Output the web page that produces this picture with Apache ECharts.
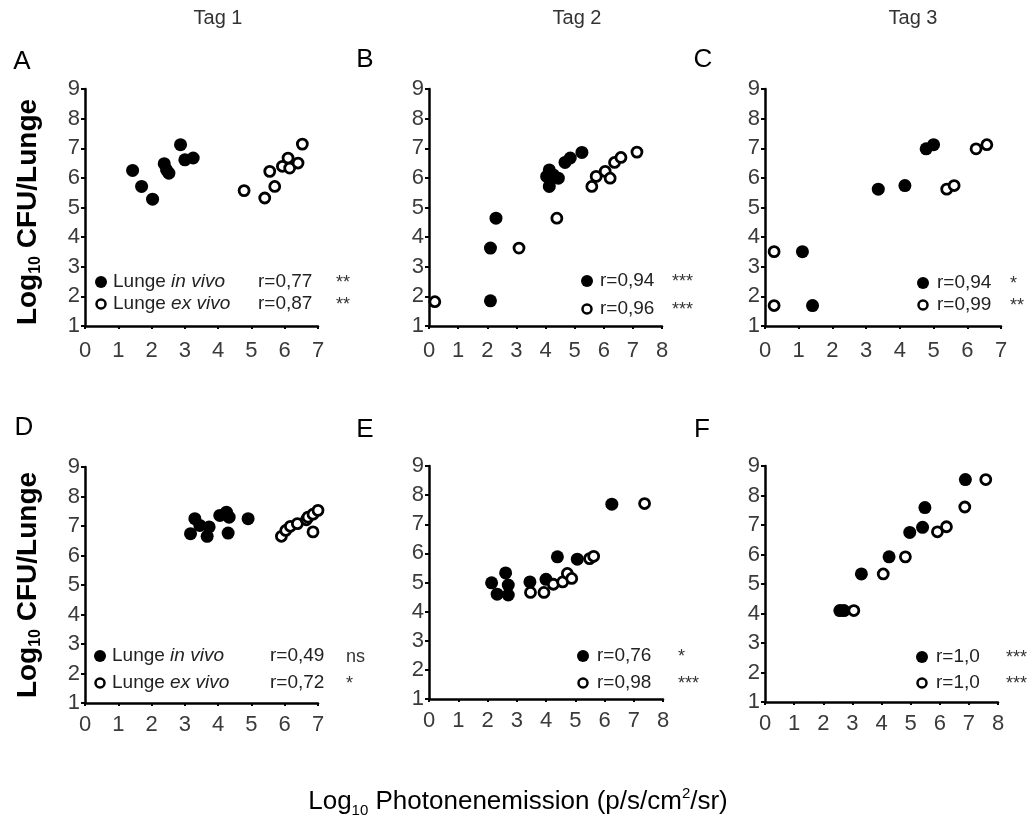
<!DOCTYPE html>
<html><head><meta charset="utf-8">
<script src="https://cdn.jsdelivr.net/npm/echarts@6/dist/echarts.min.js"></script>
<style>html,body{margin:0;padding:0;background:#fff}#c{width:1036px;height:825px}</style>
</head><body><div id="c"></div>
<script>
// ---------- data ----------
var panelLetters = ['A','B','C','D','E','F'];
var dayTitles = ['Tag 1','Tag 2','Tag 3'];
var xMax = [7, 8, 7, 7, 8, 8];
var yTicks = [1, 9];
var rInVivo = ['0,77','0,94','0,94','0,49','0,76','1,0'];
var rExVivo = ['0,87','0,96','0,99','0,72','0,98','1,0'];
var sigInVivo = ['**','***','*','ns','*','***'];
var sigExVivo = ['**','***','**','*','***','***'];
var legendInVivo = 'Lunge in vivo';
var legendExVivo = 'Lunge ex vivo';

var A_inVivo = [[1.43,6.25],[1.7,5.71],[2.03,5.28],[2.38,6.48],[2.45,6.27],[2.52,6.16],[2.87,7.12],[3.0,6.61],[3.25,6.67]];
var A_exVivo = [[4.78,5.57],[5.4,5.32],[5.55,6.22],[5.7,5.71],[5.93,6.39],[6.1,6.67],[6.15,6.33],[6.4,6.5],[6.53,7.14]];
var B_inVivo = [[2.11,1.85],[2.11,3.63],[2.3,4.64],[4.04,6.05],[4.13,6.27],[4.13,5.71],[4.27,6.1],[4.44,5.99],[4.67,6.52],[4.85,6.67],[5.25,6.86]];
var B_exVivo = [[0.2,1.82],[3.09,3.63],[4.39,4.64],[5.59,5.71],[5.74,6.05],[6.05,6.22],[6.22,5.99],[6.37,6.52],[6.59,6.69],[7.14,6.87]];
var C_inVivo = [[1.11,3.51],[1.41,1.69],[3.36,5.62],[4.15,5.74],[4.78,6.98],[5.0,7.12]];
var C_exVivo = [[0.27,3.51],[0.27,1.69],[5.39,5.62],[5.61,5.74],[6.26,6.98],[6.58,7.12]];
var D_inVivo = [[3.17,6.74],[3.3,7.25],[3.45,7.02],[3.67,6.65],[3.73,6.97],[4.05,7.36],[4.25,7.47],[4.33,7.3],[4.3,6.76],[4.9,7.25]];
var D_exVivo = [[5.9,6.65],[6.03,6.85],[6.17,6.99],[6.38,7.08],[6.65,7.21],[6.7,7.3],[6.85,7.4],[7.0,7.53],[7.03,7.3],[6.85,6.8]];
var E_inVivo = [[2.14,4.99],[2.33,4.6],[2.62,5.33],[2.71,4.91],[2.71,4.57],[3.45,5.02],[4.0,5.11],[4.39,5.88],[5.07,5.8],[6.25,7.69]];
var E_exVivo = [[3.47,4.66],[3.93,4.66],[4.25,4.94],[4.57,5.02],[4.73,5.31],[4.88,5.14],[5.49,5.82],[5.63,5.9],[7.37,7.71]];
var F_inVivo = [[2.57,4.1],[2.71,4.1],[3.31,5.34],[4.26,5.92],[4.97,6.75],[5.41,6.92],[5.49,7.59],[6.88,8.54]];
var F_exVivo = [[3.05,4.1],[4.06,5.34],[4.82,5.92],[5.92,6.77],[6.23,6.94],[6.86,7.61],[7.58,8.54]];

var inVivoSets = [A_inVivo, B_inVivo, C_inVivo, D_inVivo, E_inVivo, F_inVivo];
var exVivoSets = [A_exVivo, B_exVivo, C_exVivo, D_exVivo, E_exVivo, F_exVivo];

// ---------- layout ----------
var FONT = '"Liberation Sans", Arial, sans-serif';
var grids = [
  {left:85, top:89, width:233, height:237},
  {left:429, top:89, width:233, height:237},
  {left:765, top:89, width:236, height:237},
  {left:85, top:467, width:233, height:236},
  {left:429, top:466, width:234, height:233},
  {left:765, top:466, width:233, height:236}
];
var letterPos = [[22,62],[365,60],[703,60],[24,428],[365,430],[702,430]];
var dayPos = [[218,18],[577,18],[913,18]];
// legend rows: marker x, row1 y, row2 y, r-text x, sig x, show label text
var legPos = [
  {mx:101, y1:282, y2:304, rx:258, sx:336, label:true},
  {mx:587, y1:281, y2:309, rx:600, sx:672, label:false},
  {mx:923, y1:283, y2:305, rx:937, sx:1010, label:false},
  {mx:100, y1:656, y2:683, rx:270, sx:346, label:true},
  {mx:583, y1:656, y2:683, rx:597, sx:678, label:false},
  {mx:922, y1:657, y2:683, rx:936, sx:1006, label:false}
];

var xAxes = [], yAxes = [], series = [], graphic = [];
grids.forEach(function(g, i){
  var top = i < 3;
  xAxes.push({gridIndex:i, type:'value', min:0, max:xMax[i], interval:1,
    axisLine:{show:true, onZero:false, lineStyle:{color:'#000', width:2.5}},
    axisTick:{show:true, length:3, lineStyle:{color:'#000', width:2}},
    axisLabel:{color:'#3a3a3a', fontSize:22, fontFamily:FONT, margin: top?14:11},
    splitLine:{show:false}});
  yAxes.push({gridIndex:i, type:'value', min:yTicks[0], max:yTicks[1], interval:1,
    axisLine:{show:true, onZero:false, lineStyle:{color:'#000', width:2.5}},
    axisTick:{show:true, length:4, lineStyle:{color:'#000', width:2}},
    axisLabel:{color:'#3a3a3a', fontSize:22, fontFamily:FONT, margin:5},
    splitLine:{show:false}});
  series.push({type:'scatter', xAxisIndex:i, yAxisIndex:i, data:inVivoSets[i],
    symbol:'circle', symbolSize:13, itemStyle:{color:'#000', opacity:1}});
  series.push({type:'scatter', xAxisIndex:i, yAxisIndex:i, data:exVivoSets[i],
    symbol:'circle', symbolSize:10, itemStyle:{color:'#fff', borderColor:'#000', borderWidth:2.8, opacity:1}});

  graphic.push({type:'text', x:letterPos[i][0], y:letterPos[i][1],
    style:{text:panelLetters[i], fontSize:26, fontFamily:FONT, fill:'#000', align:'center', verticalAlign:'middle'}});

  var L = legPos[i];
  graphic.push({type:'circle', shape:{cx:L.mx, cy:L.y1, r:6}, style:{fill:'#000'}});
  graphic.push({type:'circle', shape:{cx:L.mx, cy:L.y2, r:4.5}, style:{fill:'#fff', stroke:'#000', lineWidth:2.5}});
  var rich = {n:{fontSize:19, fontFamily:FONT, fill:'#222'}, i:{fontSize:19, fontFamily:FONT, fontStyle:'italic', fill:'#222'}};
  if (L.label) {
    var p1 = legendInVivo.split(' '), p2 = legendExVivo.split(' ');
    graphic.push({type:'text', x:L.mx+12, y:L.y1, style:{text:'{n|'+p1[0]+' }{i|'+p1.slice(1).join(' ')+'}',
      rich:rich, verticalAlign:'middle', align:'left'}});
    graphic.push({type:'text', x:L.mx+12, y:L.y2, style:{text:'{n|'+p2[0]+' }{i|'+p2.slice(1).join(' ')+'}',
      rich:rich, verticalAlign:'middle', align:'left'}});
  }
  graphic.push({type:'text', x:L.rx, y:L.y1, style:{text:'r='+rInVivo[i], fontSize:19, fontFamily:FONT, fill:'#222', verticalAlign:'middle', align:'left'}});
  graphic.push({type:'text', x:L.rx, y:L.y2, style:{text:'r='+rExVivo[i], fontSize:19, fontFamily:FONT, fill:'#222', verticalAlign:'middle', align:'left'}});
  graphic.push({type:'text', x:L.sx, y:L.y1+1, style:{text:sigInVivo[i], fontSize:18, fontFamily:FONT, fill:'#333', verticalAlign:'middle', align:'left'}});
  graphic.push({type:'text', x:L.sx, y:L.y2+1, style:{text:sigExVivo[i], fontSize:18, fontFamily:FONT, fill:'#333', verticalAlign:'middle', align:'left'}});
});

dayTitles.forEach(function(t, k){
  graphic.push({type:'text', x:dayPos[k][0], y:dayPos[k][1],
    style:{text:t, fontSize:20, fontFamily:'"Liberation Sans Narrow", "Liberation Sans", Arial, sans-serif', fill:'#333', align:'center', verticalAlign:'middle'}});
});

[[28,212],[28,585]].forEach(function(p){
  graphic.push({type:'text', x:p[0], y:p[1], rotation:Math.PI/2,
    style:{text:'{a|Log}{b|10}{a| CFU/Lunge}',
      rich:{a:{fontSize:28, fontWeight:'bold', fontFamily:FONT, fill:'#000', lineHeight:32},
            b:{fontSize:16, fontWeight:'bold', fontFamily:FONT, fill:'#000', verticalAlign:'bottom', lineHeight:32}},
      align:'center', verticalAlign:'middle'}});
});
graphic.push({type:'text', x:518, y:802,
  style:{text:'{a|Log}{b|10}{a| Photonenemission (p/s/cm}{c|2}{a|/sr)}',
    rich:{a:{fontSize:26, fontFamily:FONT, fill:'#000', lineHeight:32},
          b:{fontSize:15, fontFamily:FONT, fill:'#000', verticalAlign:'bottom', lineHeight:32},
          c:{fontSize:15, fontFamily:FONT, fill:'#000', verticalAlign:'top', lineHeight:32}},
    align:'center', verticalAlign:'middle'}});

var chart = echarts.init(document.getElementById('c'), null, {renderer:'canvas'});
chart.setOption({
  animation:false,
  backgroundColor:'#fff',
  grid: grids,
  xAxis: xAxes,
  yAxis: yAxes,
  series: series,
  graphic: graphic
});
</script>
</body></html>
